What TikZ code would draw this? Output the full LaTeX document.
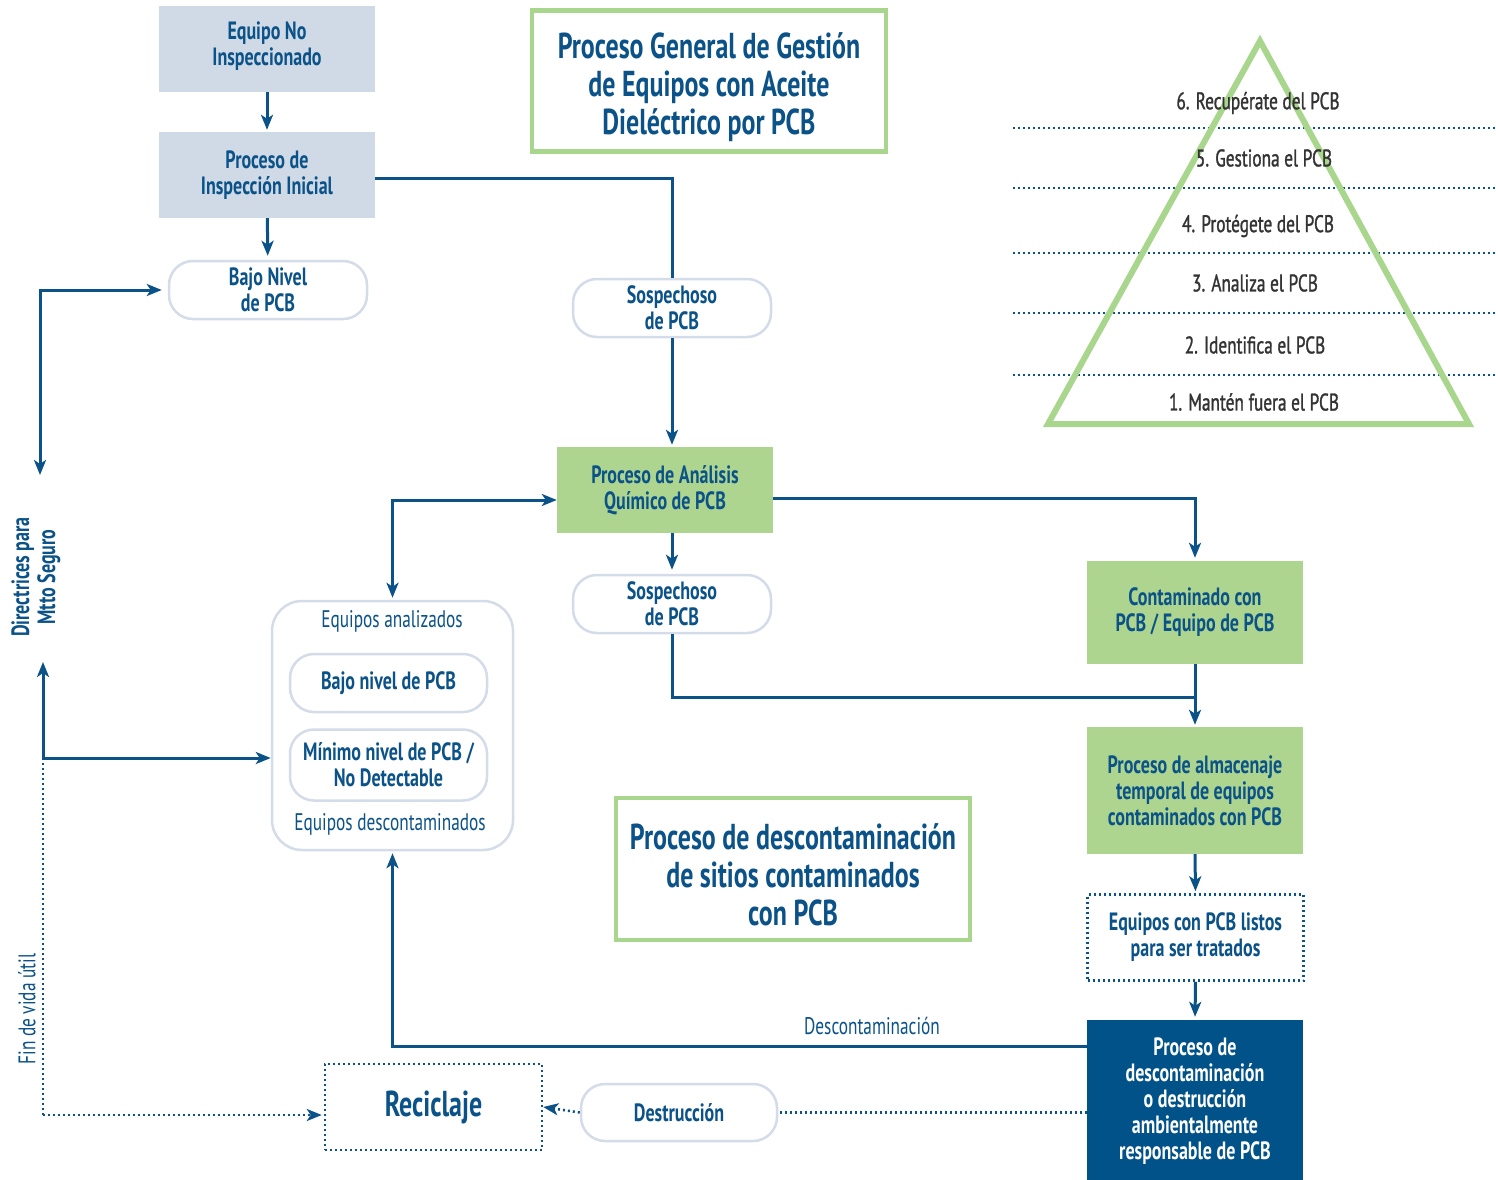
\documentclass[tikz,border=0pt]{standalone}
\usepackage{fontspec}
\setmainfont[FakeStretch=0.72]{PT Sans}
\newfontfamily\pyrfont[FakeStretch=0.72,FakeBold=1.2]{PT Sans}
\usetikzlibrary{arrows.meta,positioning}
\definecolor{dblue}{HTML}{0A5288}
\definecolor{gfill}{HTML}{AED58F}
\definecolor{gline}{HTML}{A9D68D}
\definecolor{lgrey}{HTML}{D0DAE6}
\definecolor{rline}{HTML}{D3DCE8}
\definecolor{darkbox}{HTML}{005288}
\definecolor{ptext}{HTML}{333333}
\tikzset{
  base/.style={align=center, inner sep=0pt, text=dblue, font=\bfseries\fontsize{25}{26}\selectfont},
  greybox/.style={base, fill=lgrey, minimum width=216pt, minimum height=86pt},
  greenbox/.style={base, fill=gfill, minimum width=216pt},
  pill/.style={base, draw=rline, line width=2.5pt, fill=white, rounded corners=24pt, minimum width=198pt, minimum height=58pt},
  dotbox/.style={base, draw=dblue, line width=2.5pt, dash pattern=on 2pt off 3pt},
  titlebox/.style={draw=gline, line width=4.5pt, fill=white, inner sep=0pt},
  titletext/.style={base, font=\bfseries\fontsize{36}{38}\selectfont},
  conn/.style={draw=dblue, line width=3pt},
  arr/.style={conn, -{Stealth[length=15pt,width=12pt,inset=4pt]}},
  arrb/.style={conn, {Stealth[length=15pt,width=12pt,inset=4pt]}-{Stealth[length=15pt,width=12pt,inset=4pt]}},
  dotconn/.style={draw=dblue, line width=2.5pt, dash pattern=on 2pt off 3pt},
  dotarr/.style={dotconn, -{Stealth[length=15pt,width=12pt,inset=4pt]}},
  ptxt/.style={text=ptext, font=\pyrfont\fontsize{24}{25}\selectfont, inner sep=1pt},
  plain/.style={text=dblue, font=\fontsize{24}{26}\selectfont, inner sep=1pt}
}
\begin{document}
\begin{tikzpicture}[x=1pt,y=-1pt]
\useasboundingbox[fill=white] (0,0) rectangle (1496,1180);

% Title boxes
\node[titlebox, minimum width=354pt, minimum height=141pt] (t1) at (709,81) {};
\node[titletext] (t1t) at (709,87) {Proceso General de Gestión\\de Equipos con Aceite\\Dieléctrico por PCB};
\node[titlebox, minimum width=354pt, minimum height=142pt] (t2) at (793,869) {};
\node[titletext] (t2t) at (793,875) {Proceso de descontaminación\\de sitios contaminados\\con PCB};

% Pyramid
\foreach \yy in {128,188,253,313,375}
  \draw[dotconn] (1013,\yy) -- (1496,\yy);
\draw[gline, line width=6pt, line join=miter] (1260,41) -- (1469,424) -- (1048,424) -- cycle;
\node[ptxt] (p6) at (1258,103) {6. Recupérate del PCB};
\node[ptxt] (p5) at (1264,158) {5. Gestiona el PCB};
\node[ptxt] (p4) at (1258,226) {4. Protégete del PCB};
\node[ptxt] (p3) at (1255,283) {3. Analiza el PCB};
\node[ptxt] (p2) at (1255,345) {2. Identifica el PCB};
\node[ptxt] (p1) at (1254,402) {1. Mantén fuera el PCB};

% Main nodes
\node[greybox] (eni) at (267,49) {};
\node[base] (enit) at (267,46) {Equipo No\\Inspeccionado};
\node[greybox] (pii) at (267,175) {Proceso de\\Inspección Inicial};
\node[pill] (bajo) at (268,290) {Bajo Nivel\\de PCB};
\node[pill] (sos1) at (672,308) {Sospechoso\\de PCB};
\node[greenbox, minimum height=86pt] (ana) at (665,490) {Proceso de Análisis\\Químico de PCB};
\node[pill] (sos2) at (672,604) {Sospechoso\\de PCB};
\node[greenbox, minimum height=103pt] (cont) at (1195,612.5) {Contaminado con\\PCB / Equipo de PCB};
\node[greenbox, minimum height=127pt] (alm) at (1195,790.5) {Proceso de almacenaje\\temporal de equipos\\contaminados con PCB};
\node[dotbox, minimum width=216pt, minimum height=86pt] (listos) at (1195.5,937.5) {Equipos con PCB listos\\para ser tratados};
\node[base, fill=darkbox, text=white, minimum width=216pt, minimum height=162pt] (dark) at (1195,1101) {Proceso de\\descontaminación\\o destrucción\\ambientalmente\\responsable de PCB};
\node[pill, minimum width=196pt, minimum height=57pt] (destr) at (679,1112.5) {Destrucción};
\node[dotbox, minimum width=217pt, minimum height=86pt, font=\bfseries\fontsize{36}{38}\selectfont] (recic) at (433.5,1107) {Reciclaje};

% Equipos group
\node[draw=rline, line width=2.5pt, rounded corners=30pt, minimum width=241pt, minimum height=249pt, inner sep=0pt] (equip) at (392.5,725.5) {};
\node[plain] (ean) at (392,621) {Equipos analizados};
\node[pill, minimum width=197pt, minimum height=58pt] (bnp) at (388.5,683) {Bajo nivel de PCB};
\node[pill, minimum width=197pt, minimum height=71pt] (mnp) at (388.5,765) {Mínimo nivel de PCB /\\No Detectable};
\node[plain] (edc) at (390,824) {Equipos descontaminados};

% Side labels
\node[base, rotate=90] (dir) at (36,577) {Directrices para\\Mtto Seguro};
\node[plain, rotate=90] (fin) at (27,1009) {Fin de vida útil};

% Connectors
\draw[arr, shorten >=2pt] (eni) -- (pii);
\draw[arr, shorten >=4pt] (pii) -- (bajo);
\draw[conn] ([yshift=-3pt]pii.east) -| (sos1.north);
\draw[arr, shorten >=2pt] (sos1.south) -- (sos1.south |- ana.north);
\draw[arr, shorten >=3pt] ([yshift=-8pt]ana.east) -| (cont.north);
\draw[arr, shorten >=4pt] (sos2.north |- ana.south) -- (sos2.north);
\coordinate (j) at (1195,697);
\draw[conn] (sos2.south) |- (j);
\draw[arr, shorten >=2pt] (cont.south) -- (alm.north);
\draw[arr, shorten >=2pt] (alm.south) -- (listos.north);
\draw[arr, shorten >=3pt] (listos.south) -- (dark.north);
\draw[arr, shorten >=2pt] ([yshift=55pt]dark.west) -| (equip.south);
\node[plain] (desc) at (872,1026) {Descontaminación};
\draw[dotconn] (dark.west |- destr.east) -- (destr.east);
\draw[dotarr] (destr.west) -- (recic.east);
\draw[arrb, shorten >=2pt] ([yshift=-10pt]ana.west) -| (equip.north);

\coordinate (c1) at (40,475);
\draw[arrb, shorten >=6pt] (c1) |- (bajo.west);
\coordinate (c3) at (43,662);
\coordinate (c4) at (43,758);
\draw[arr] (c4) -- (c3);
\draw[arr] (c4) -- (equip.west |- c4);
\coordinate (c5) at (43,1115);
\draw[dotconn] (c4) -- (c5);
\draw[dotarr, shorten >=2pt] (c5) -- (recic.west |- c5);
\end{tikzpicture}
\end{document}
